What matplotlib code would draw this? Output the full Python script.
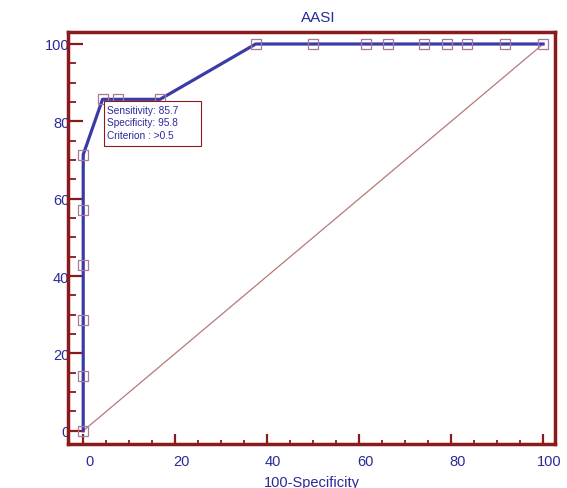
import matplotlib.pyplot as plt
import matplotlib.transforms as mtransforms
from matplotlib.patches import Rectangle
from matplotlib.ticker import MultipleLocator

plt.rcParams['font.family'] = ['Liberation Sans', 'DejaVu Sans']

# ROC points (100-Specificity, Sensitivity)
fpr = [0, 0, 0, 0, 0, 0, 4.2, 7.5, 16.7, 37.5, 50, 61.5, 66.2, 74, 79.2, 83.5, 91.7, 100]
tpr = [0, 14.3, 28.6, 42.9, 57.1, 71.4, 85.7, 85.7, 85.7, 100, 100, 100, 100, 100, 100, 100, 100, 100]
ref_line = [0, 100]

crit_point = (4.2, 85.7)
crit_lines = ["Sensitivity: 85.7", "Specificity: 95.8", "Criterion : >0.5"]

navy = "#2a2a9a"
darkred = "#8b1a1a"

fig = plt.figure(figsize=(5.67, 4.89), dpi=100)
ax = fig.add_axes([0.12, 0.09, 0.859, 0.8425])

ax.plot(ref_line, ref_line, color="#b87878", lw=0.9, zorder=2)
ax.plot(fpr, tpr, color="#3b3ba8", lw=2.3, zorder=3)
ax.plot(fpr, tpr, ls="none", marker="s", ms=6.5, mfc="none", mec="#a77a98", mew=0.9, zorder=4)

ax.set_xlim(-3.3, 102.6)
ax.set_ylim(-3.4, 103.1)

for s in ax.spines.values():
    s.set_color(darkred)
    s.set_linewidth(2.5)

ax.xaxis.set_major_locator(MultipleLocator(20))
ax.xaxis.set_minor_locator(MultipleLocator(5))
ax.yaxis.set_major_locator(MultipleLocator(20))
ax.yaxis.set_minor_locator(MultipleLocator(5))

ax.tick_params(axis="x", which="major", direction="in", length=7.5, width=1.6,
               color=darkred, labelcolor=navy, labelsize=10.5, pad=7)
ax.tick_params(axis="x", which="minor", direction="in", length=3, width=1.3, color=darkred)
ax.tick_params(axis="y", which="major", direction="in", length=10.5, width=1.6,
               color=darkred, labelcolor=navy, labelsize=10.5, pad=-1)
ax.tick_params(axis="y", which="minor", direction="in", length=5.5, width=1.3, color=darkred)

# shift x tick labels a bit to the right, as in the original
offset = mtransforms.ScaledTranslation(6 / 100, 0, fig.dpi_scale_trans)
for lbl in ax.get_xticklabels():
    lbl.set_transform(lbl.get_transform() + offset)

title = ax.set_title("AASI", color=navy, fontsize=11, pad=8)
title.set_transform(title.get_transform() + mtransforms.ScaledTranslation(7 / 100, 0, fig.dpi_scale_trans))
ax.set_xlabel("100-Specificity", color=navy, fontsize=10.5, labelpad=5)

# criterion box, anchored at the cut-off point
anchor = fig.dpi_scale_trans + mtransforms.ScaledTranslation(crit_point[0], crit_point[1], ax.transData)
ax.add_patch(Rectangle((0.01, -0.465), 0.97, 0.451, transform=anchor, fc="white",
                       ec=darkred, lw=0.8, zorder=5, clip_on=False))
ax.text(0.04, -0.055, "\n".join(crit_lines), transform=anchor, ha="left", va="top",
        fontsize=7.3, color=navy, linespacing=1.3, zorder=6)

fig.savefig("out.png", dpi=100)
